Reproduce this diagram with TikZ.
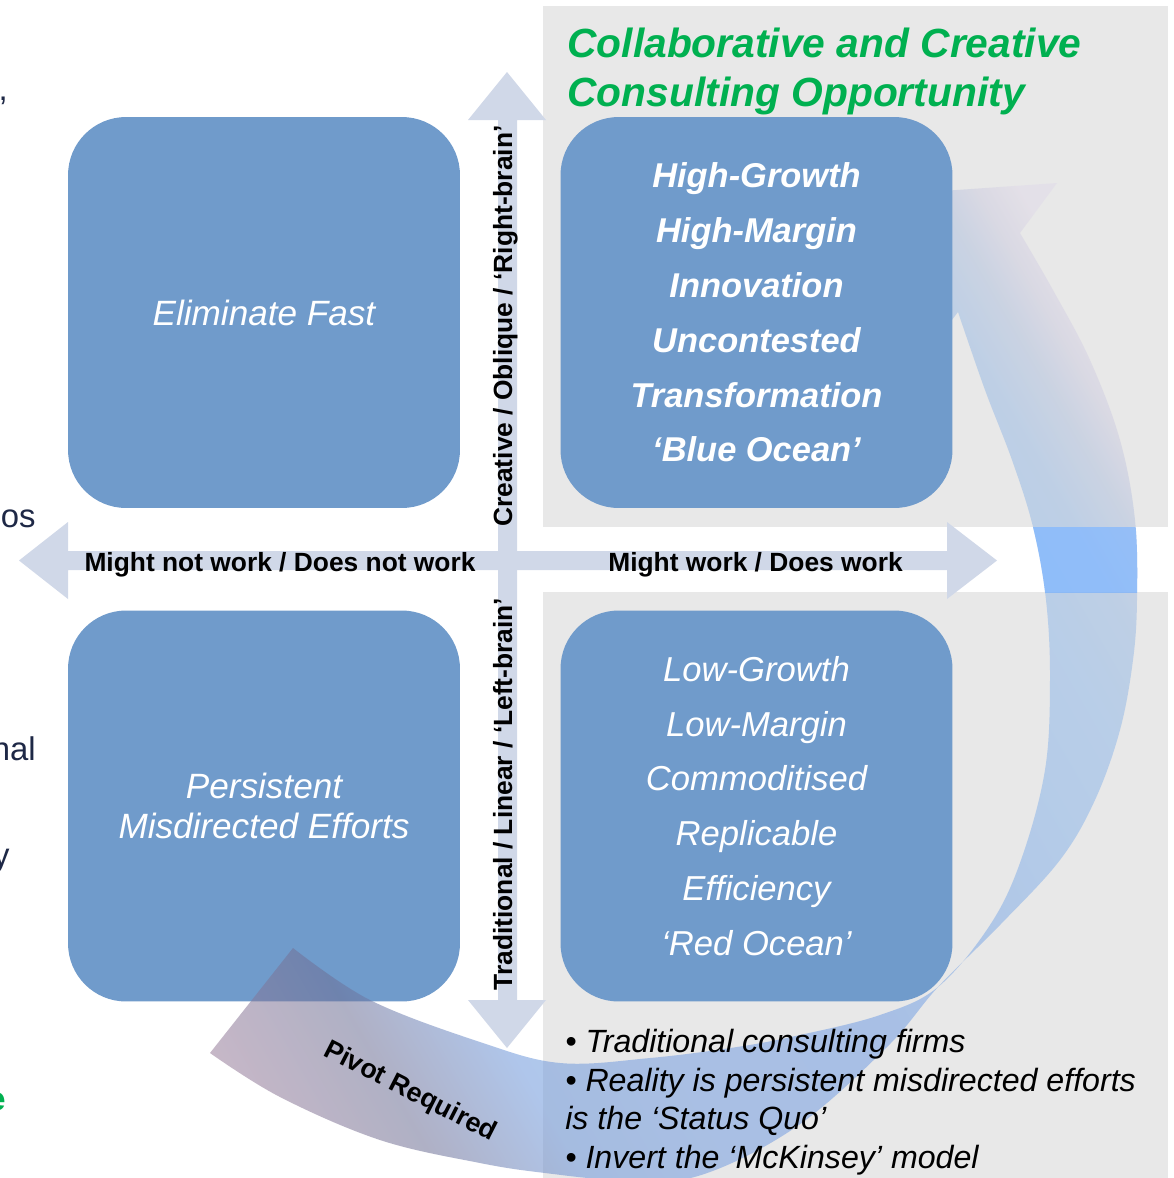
\documentclass[tikz,border=0pt]{standalone}
\usepackage{fontspec}
\setmainfont{Liberation Sans}

\definecolor{boxblue}{RGB}{112,155,203}
\definecolor{axisc}{RGB}{208,216,232}
\definecolor{panelc}{RGB}{232,232,232}
\definecolor{titlegreen}{RGB}{0,176,80}
\definecolor{fragc}{RGB}{30,40,70}
\definecolor{gapblue}{RGB}{108,171,255}

% colour run of the curved arrow, from its tail to its head
\pgfdeclarehorizontalshading{arcgrad}{100bp}{%
  rgb(0bp)=(0.600,0.490,0.600);
  rgb(26.5bp)=(0.600,0.490,0.600);
  rgb(32.3bp)=(0.430,0.440,0.590);
  rgb(37.3bp)=(0.431,0.596,0.859);
  rgb(43bp)=(0.467,0.624,0.882);
  rgb(51.5bp)=(0.455,0.624,0.894);
  rgb(60bp)=(0.537,0.702,0.910);
  rgb(65bp)=(0.573,0.725,0.910);
  rgb(68bp)=(0.612,0.737,0.894);
  rgb(70bp)=(0.700,0.760,0.870);
  rgb(71.5bp)=(0.810,0.805,0.880);
  rgb(73bp)=(0.880,0.855,0.910);
  rgb(100bp)=(0.880,0.855,0.910)}

% outline of the curved "pivot" ribbon (its two edges cross once)
\newcommand{\arcband}[1]{%
  \path[#1] plot[smooth, tension=0.6] coordinates {
      (210,1053) (280,1097) (380,1140) (480,1163) (545,1173) (620,1180)
      (698,1176) (796,1127) (887,1047) (938,987) (1000,925) (1060,860)
      (1095,800) (1120,730) (1133,660) (1137,600) (1135,520) (1120,440)
      (1090,360) (1053,290) (1020,233)}
    -- (1057,183) -- (885,195) -- (935,342)
    -- plot[smooth, tension=0.6] coordinates {
      (958,312) (985,390) (1012,460) (1033,527) (1046,600) (1050,680)
      (1045,770) (1021,860) (990,925) (938,987) (880,1015) (800,1035)
      (737,1047) (650,1058) (560,1063) (480,1042) (370,1000) (293,948)}
    -- cycle;}

\tikzset{
  quadbox/.style={fill=boxblue, draw=none, rounded corners=1.16cm,
    minimum width=7.84cm, minimum height=7.82cm, inner sep=0pt,
    text=white, align=center},
  axislabel/.style={font=\fontsize{15}{18}\selectfont\bfseries, inner sep=0pt},
  bullet/.style={font=\fontsize{18.3}{22}\selectfont\itshape, inner sep=0pt, anchor=base west},
  fragment/.style={font=\fontsize{18.7}{22}\selectfont, text=fragc, inner sep=0pt, anchor=base east},
}

\begin{document}
\begin{tikzpicture}[x=0.02cm, y=-0.02cm]
\useasboundingbox (0,0) rectangle (1174,1178);
\clip (0,0) rectangle (1174,1178);
\fill[white] (0,0) rectangle (1174,1178);

% grey panels behind the right-hand quadrants
\fill[panelc] (543,6) rectangle (1168,527);
\fill[panelc] (543,592) rectangle (1168,1178);

% the two axes
\coordinate (ytop) at (507,72);
\coordinate (ybot) at (507,1048);
\coordinate (xleft) at (19,560.5);
\coordinate (xright) at (997,560.5);
\fill[axisc] (498,120) -- (468,120) -- (ytop) -- (546,120) -- (517,120)
  -- (517,1000) -- (546,1000) -- (ybot) -- (468,1000) -- (498,1000) -- cycle;
\fill[axisc] (68,551) -- (68,522) -- (xleft) -- (68,599) -- (68,570)
  -- (947,570) -- (947,599) -- (xright) -- (947,522) -- (947,551) -- cycle;

% quadrants (the top-right one is laid over the arrow further down)
\node[quadbox, font=\fontsize{20}{24}\selectfont\itshape] (tl) at (264,312.5) {Eliminate Fast};
\node[quadbox, font=\fontsize{20}{22.7}\selectfont\itshape] (bl) at (264,806)
  {Persistent\\Misdirected Efforts};
\node[quadbox, font=\fontsize{19.7}{31.2}\selectfont\itshape] (br) at (756.5,806)
  {Low-Growth\\Low-Margin\\Commoditised\\Replicable\\Efficiency\\‘Red Ocean’};

% axis labels
\node[axislabel, anchor=base] (xl1) at (280,571) {Might not work / Does not work};
\node[axislabel, anchor=base] (xl2) at (755.5,571) {Might work / Does work};
\node[axislabel, anchor=base, rotate=90] (yl1) at (512,326) {Creative / Oblique / ‘Right-brain’};
\node[axislabel, anchor=base, rotate=90] (yl2) at (512,794) {Traditional / Linear / ‘Left-brain’};

% curved arrow
\begin{scope}
  \arcband{clip}
  \begin{scope}[transform canvas={rotate around={30:(650,650)}}]
    \shade[shading=arcgrad, opacity=0.55] (30,-50) rectangle (1250,1350);
  \end{scope}
\end{scope}
% stronger blue where the arrow crosses the white gap
\begin{scope}
  \clip (955,527) rectangle (1174,592);
  \arcband{fill=gapblue, fill opacity=0.6}
\end{scope}

\node[quadbox, font=\fontsize{19.6}{31.2}\selectfont\bfseries\itshape] (tr) at (756.5,312.5)
  {High-Growth\\High-Margin\\Innovation\\Uncontested\\Transformation\\‘Blue Ocean’};

\node[font=\fontsize{15.3}{18}\selectfont\bfseries, rotate=-27, inner sep=0pt] (pivot) at (410,1092) {Pivot Required};

% heading of the opportunity quadrant
\node[font=\fontsize{23.2}{28}\selectfont\bfseries\itshape, text=titlegreen, anchor=base west, inner sep=0pt]
  (title1) at (567,57) {Collaborative and Creative};
\node[font=\fontsize{23.2}{28}\selectfont\bfseries\itshape, text=titlegreen, anchor=base west, inner sep=0pt]
  (title2) at (567,106) {Consulting Opportunity};

% notes under the lower-right quadrant
\node[bullet] (b1) at (565,1052) {• Traditional consulting firms};
\node[bullet] (b2) at (565,1091) {• Reality is persistent misdirected efforts};
\node[bullet] (b3) at (565,1129) {is the ‘Status Quo’};
\node[bullet] (b4) at (565,1168) {• Invert the ‘McKinsey’ model};

% ends of the neighbouring text column
\node[fragment] (f1) at (8,100) {,};
\node[fragment] (f2) at (36,527) {os};
\node[fragment] (f3) at (36,760) {nal};
\node[fragment] (f4) at (10,866) {y};
\node[fragment, text=titlegreen, font=\fontsize{18.7}{22}\selectfont\bfseries] (f5) at (6,1110) {e};
\end{tikzpicture}
\end{document}
